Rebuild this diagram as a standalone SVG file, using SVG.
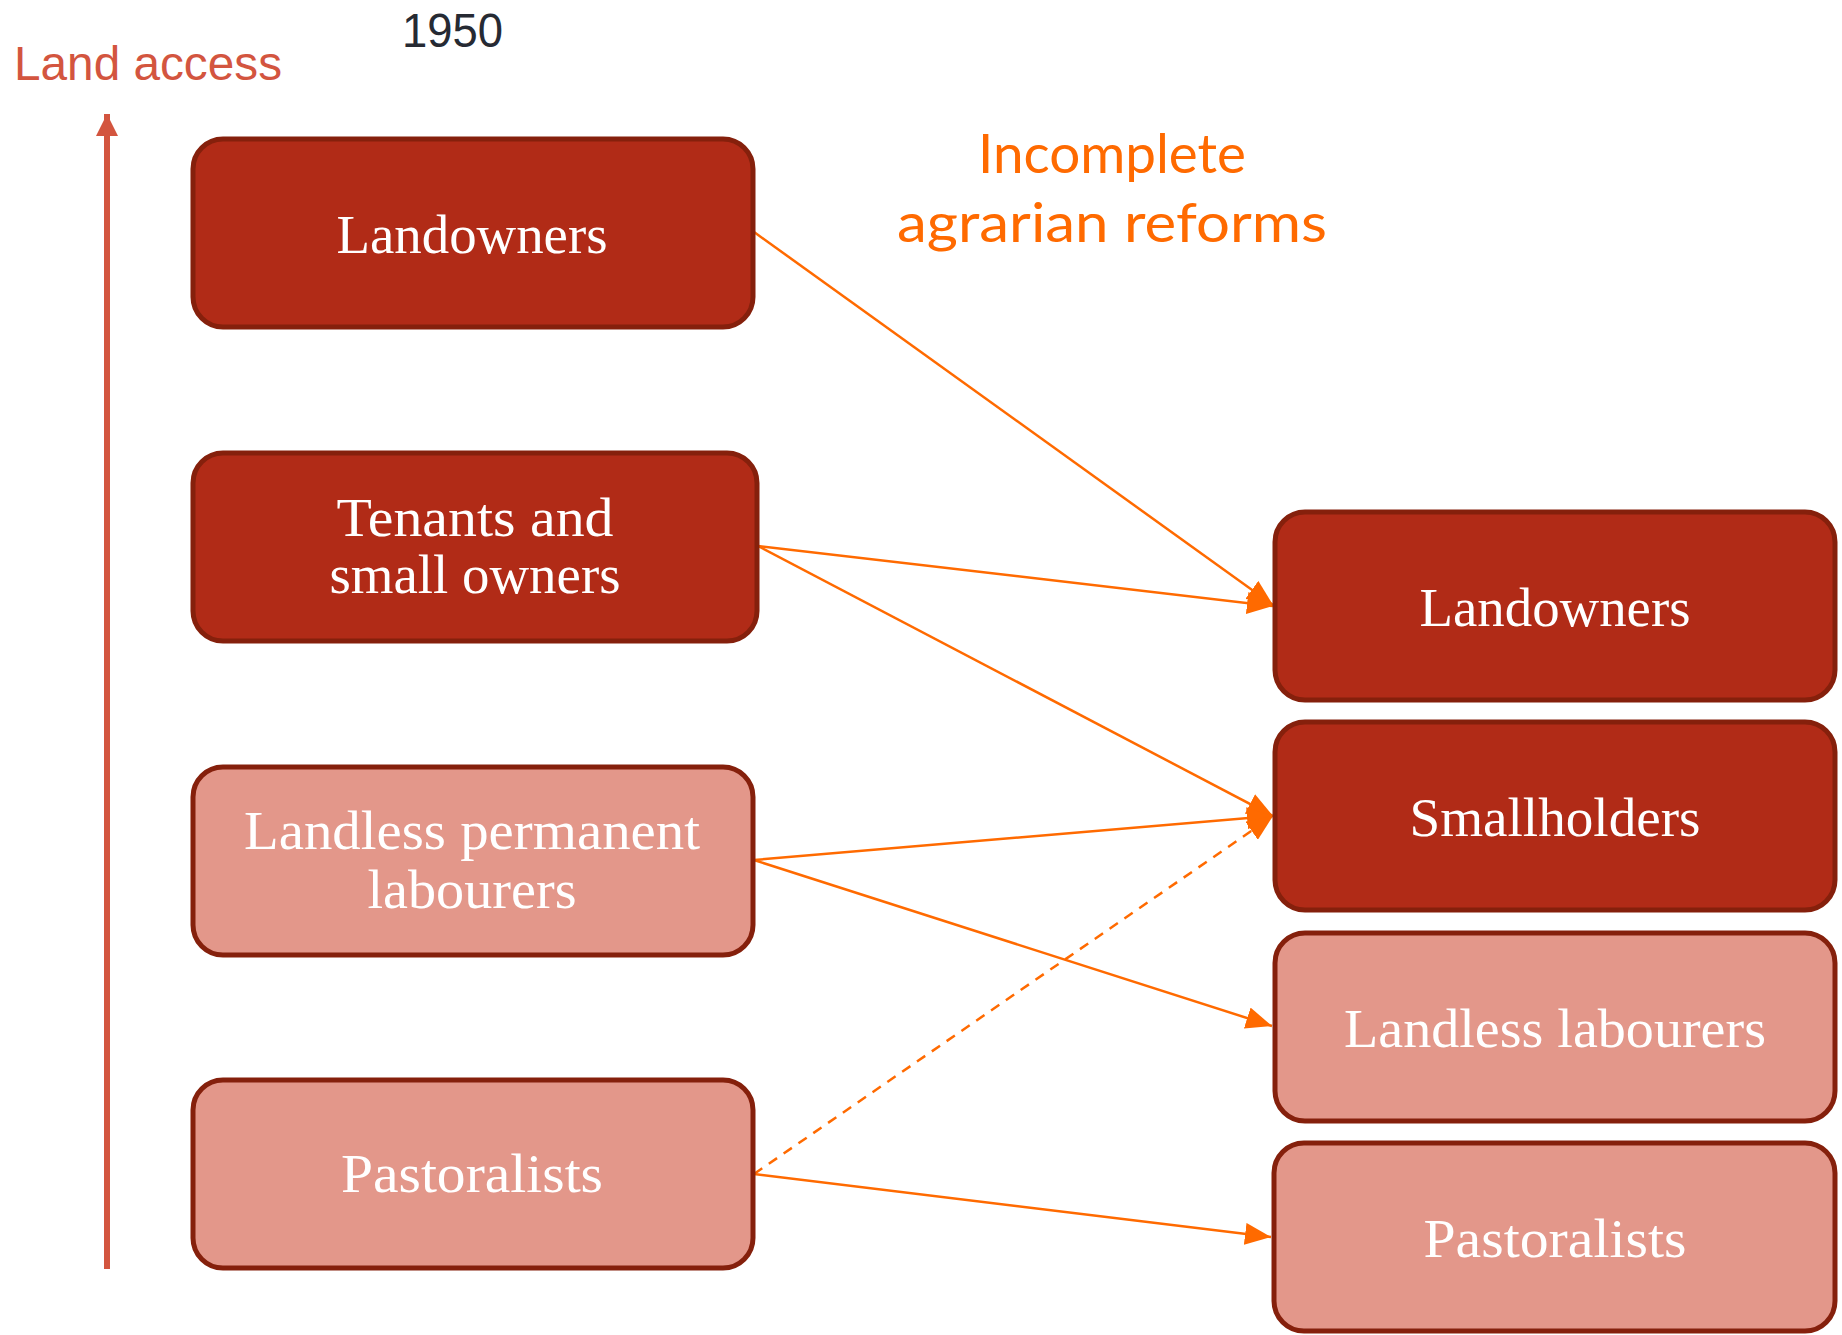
<svg xmlns="http://www.w3.org/2000/svg" width="1842" height="1335" viewBox="0 0 1842 1335">
<style>
.box{stroke:#85200C;stroke-width:5}
.dark{fill:#B12B17}
.light{fill:#E3978A}
.lbl{font-family:"Liberation Serif","Times New Roman",serif;font-size:55px;fill:#FFFFFF;text-anchor:middle}
.conn{stroke:#FF6A00;stroke-width:2.5;fill:none}
.dash{stroke-dasharray:10 8}
</style>
<defs>
<marker id="ah" markerUnits="userSpaceOnUse" markerWidth="26" markerHeight="22" refX="26" refY="11" orient="auto">
<path d="M0,0 L26,11 L0,22 z" fill="#FF6A00"/>
</marker>
<marker id="axh" markerUnits="userSpaceOnUse" markerWidth="22" markerHeight="24" refX="22" refY="11" orient="auto">
<path d="M0,0 L22,11 L0,22 z" fill="#D3553F"/>
</marker>
</defs>
<rect width="1842" height="1335" fill="#FFFFFF"/>

<g id="axis">
<line x1="107" y1="1269" x2="107" y2="114" stroke="#D3553F" stroke-width="6" marker-end="url(#axh)"/>
<text x="14" y="80" font-family="Liberation Sans, Arial, sans-serif" font-size="48" fill="#D3553F" textLength="268" lengthAdjust="spacingAndGlyphs">Land access</text>
</g>
<g id="year">
<text x="402" y="47" font-family="Liberation Sans, Arial, sans-serif" font-size="48" fill="#262A33" textLength="101" lengthAdjust="spacingAndGlyphs">1950</text>
</g>
<g id="title">
<text x="1112" y="173" font-family="Lato, 'Open Sans', sans-serif" font-size="55" fill="#FF6A00" text-anchor="middle" textLength="268" lengthAdjust="spacingAndGlyphs">Incomplete</text>
<text x="1112" y="242" font-family="Lato, 'Open Sans', sans-serif" font-size="55" fill="#FF6A00" text-anchor="middle" textLength="430" lengthAdjust="spacingAndGlyphs">agrarian reforms</text>
</g>

<g id="connectors">
<line class="conn" x1="754" y1="232" x2="1273" y2="605" marker-end="url(#ah)"/>
<line class="conn" x1="758" y1="546" x2="1273" y2="606" marker-end="url(#ah)"/>
<line class="conn" x1="758" y1="546" x2="1273" y2="816" marker-end="url(#ah)"/>
<line class="conn" x1="754" y1="860" x2="1273" y2="816" marker-end="url(#ah)"/>
<line class="conn" x1="754" y1="860" x2="1272" y2="1026" marker-end="url(#ah)"/>
<line class="conn dash" x1="754" y1="1174" x2="1273" y2="816" marker-end="url(#ah)"/>
<line class="conn" x1="754" y1="1174" x2="1271" y2="1237" marker-end="url(#ah)"/>
</g>

<g id="n1950-landowners">
<rect class="box dark" x="193" y="139" width="560" height="188" rx="30"/>
<text class="lbl" x="472" y="253" textLength="271" lengthAdjust="spacingAndGlyphs">Landowners</text>
</g>
<g id="n1950-tenants">
<rect class="box dark" x="193" y="453" width="564" height="188" rx="30"/>
<text class="lbl" x="475" y="536" textLength="277" lengthAdjust="spacingAndGlyphs">Tenants and</text>
<text class="lbl" x="475" y="593" textLength="291" lengthAdjust="spacingAndGlyphs">small owners</text>
</g>
<g id="n1950-landless">
<rect class="box light" x="193" y="767" width="560" height="188" rx="30"/>
<text class="lbl" x="472" y="849" textLength="456" lengthAdjust="spacingAndGlyphs">Landless permanent</text>
<text class="lbl" x="472" y="908" textLength="209" lengthAdjust="spacingAndGlyphs">labourers</text>
</g>
<g id="n1950-pastoralists">
<rect class="box light" x="193" y="1080" width="560" height="188" rx="30"/>
<text class="lbl" x="472" y="1192" textLength="262" lengthAdjust="spacingAndGlyphs">Pastoralists</text>
</g>

<g id="nlater-landowners">
<rect class="box dark" x="1275" y="512" width="560" height="188" rx="30"/>
<text class="lbl" x="1555" y="626" textLength="271" lengthAdjust="spacingAndGlyphs">Landowners</text>
</g>
<g id="nlater-smallholders">
<rect class="box dark" x="1275" y="722" width="560" height="188" rx="30"/>
<text class="lbl" x="1555" y="836" textLength="291" lengthAdjust="spacingAndGlyphs">Smallholders</text>
</g>
<g id="nlater-landless">
<rect class="box light" x="1275" y="933" width="560" height="188" rx="30"/>
<text class="lbl" x="1555" y="1047" textLength="422" lengthAdjust="spacingAndGlyphs">Landless labourers</text>
</g>
<g id="nlater-pastoralists">
<rect class="box light" x="1274" y="1143" width="561" height="188" rx="30"/>
<text class="lbl" x="1555" y="1257" textLength="263" lengthAdjust="spacingAndGlyphs">Pastoralists</text>
</g>
</svg>
